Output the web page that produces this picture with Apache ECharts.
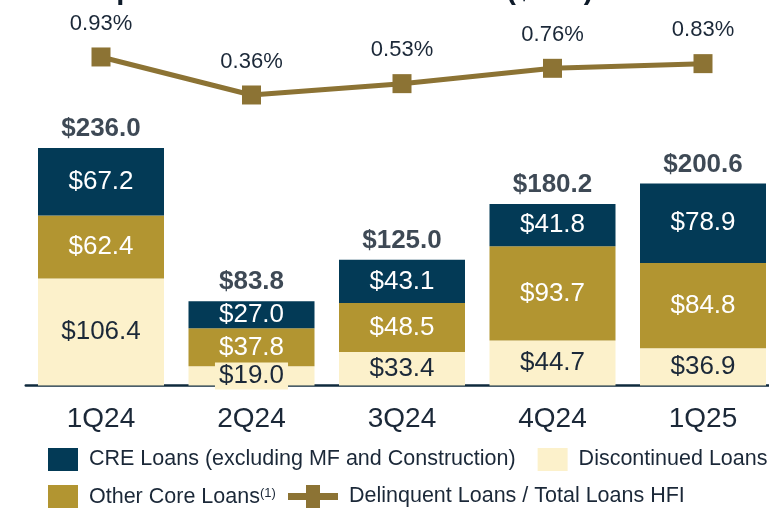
<!DOCTYPE html>
<html>
<head>
<meta charset="utf-8">
<script src="https://cdn.jsdelivr.net/npm/echarts@6/dist/echarts.min.js"></script>
<style>html,body{margin:0;padding:0;background:#fff;overflow:hidden}#c{width:800px;height:508px}</style>
</head>
<body>
<div id="c"></div>
<script>
const categories = ['1Q24', '2Q24', '3Q24', '4Q24', '1Q25'];
const creLoans = [67.2, 27.0, 43.1, 41.8, 78.9];
const otherCoreLoans = [62.4, 37.8, 48.5, 93.7, 84.8];
const discontinuedLoans = [106.4, 19.0, 33.4, 44.7, 36.9];
const totals = [236.0, 83.8, 125.0, 180.2, 200.6];
const delinquentRatio = [0.93, 0.36, 0.53, 0.76, 0.83];

const NAVY = '#033A56', GOLD = '#B29531', CREAM = '#FCF1CB', LINE = '#8C7334', TXT = '#1B2838', DARK = '#0E1B2A';
const FONT = 'Liberation Sans, Arial, sans-serif';

const chart = echarts.init(document.getElementById('c'), null, {renderer: 'canvas'});
const money = v => '$' + v.toFixed(1);
const legendText1 = {fontSize: 21.5, color: TXT, fontFamily: FONT, padding: [6, 0, 0, 6]};
const legendText2 = {fontSize: 21.5, color: TXT, fontFamily: FONT, padding: [2, 0, 0, 6]};

chart.setOption({
  animation: false,
  textStyle: {fontFamily: FONT},
  graphic: [{
    type: 'text', left: 97, top: -24,
    style: {text: 'Special Mention Loans Trend ($mm)', font: 'bold 29px ' + FONT, fill: DARK}
  }],
  grid: [
    {left: 25.75, right: 21.75, top: 83.5, bottom: 122.5},
    {left: 25.75, right: 21.75, top: 52.3, bottom: 389}
  ],
  xAxis: [
    {type: 'category', gridIndex: 0, data: categories,
     axisLine: {lineStyle: {color: '#0F2A3D', width: 2.5}}, axisTick: {show: false},
     axisLabel: {fontSize: 28, color: TXT, margin: 20, fontFamily: FONT}},
    {type: 'category', gridIndex: 1, data: categories, show: false}
  ],
  yAxis: [
    {type: 'value', gridIndex: 0, min: 0, max: 300, show: false, splitLine: {show: false}},
    {type: 'value', gridIndex: 1, min: 0, max: 1, show: false, splitLine: {show: false}}
  ],
  legend: [
    {data: ['CRE Loans (excluding MF and Construction)', 'Discontinued Loans'],
     left: 48, top: 448, padding: 0, itemWidth: 30, itemHeight: 23, itemGap: 22, icon: 'rect',
     textStyle: legendText1},
    {data: ['Other Core Loans'],
     left: 48, top: 485, padding: 0, itemWidth: 30, itemHeight: 23, icon: 'rect',
     formatter: () => 'Other Core Loans{sup|(1)}',
     textStyle: Object.assign({}, legendText2, {
       rich: {sup: {fontSize: 13, verticalAlign: 'top', color: TXT, padding: [0, 0, 8, 0]}}})},
    {data: ['Delinquent Loans / Total Loans HFI'],
     left: 288, top: 485, padding: 0, itemWidth: 50, itemHeight: 23,
     icon: 'path://M0,8H18V0H32V8H50V15H32V23H18V15H0Z',
     textStyle: legendText2}
  ],
  series: [
    {name: 'Discontinued Loans', type: 'bar', stack: 'a', barWidth: 126,
     itemStyle: {color: CREAM},
     label: {show: true, position: 'inside', fontSize: 26, color: TXT, fontFamily: FONT, formatter: p => money(p.value)},
     data: discontinuedLoans.map((v, i) => i === 1 ? {value: v, label: {backgroundColor: CREAM, padding: [1, 4, 0, 4]}} : v)},
    {name: 'Other Core Loans', type: 'bar', stack: 'a', barWidth: 126,
     itemStyle: {color: GOLD},
     label: {show: true, position: 'inside', fontSize: 26, color: '#fff', fontFamily: FONT, formatter: p => money(p.value)},
     data: otherCoreLoans},
    {name: 'CRE Loans (excluding MF and Construction)', type: 'bar', stack: 'a', barWidth: 126,
     itemStyle: {color: NAVY},
     label: {show: true, position: 'inside', fontSize: 26, color: '#fff', fontFamily: FONT, formatter: p => money(p.value)},
     data: creLoans},
    {name: 'Totals', type: 'scatter', symbolSize: 0, silent: true,
     label: {show: true, position: 'top', distance: 6, fontSize: 26, fontWeight: 'bold', color: DARK, fontFamily: FONT,
       formatter: p => money(p.value)},
     data: totals, z: 5},
    {name: 'Delinquent Loans / Total Loans HFI', type: 'line', xAxisIndex: 1, yAxisIndex: 1,
     symbol: 'rect', symbolSize: 19, itemStyle: {color: LINE}, lineStyle: {color: LINE, width: 5},
     label: {show: true, position: 'top', distance: 13, fontSize: 22, color: TXT, fontFamily: FONT,
       formatter: p => p.value.toFixed(2) + '%'},
     data: delinquentRatio}
  ]
});
</script>
</body>
</html>
